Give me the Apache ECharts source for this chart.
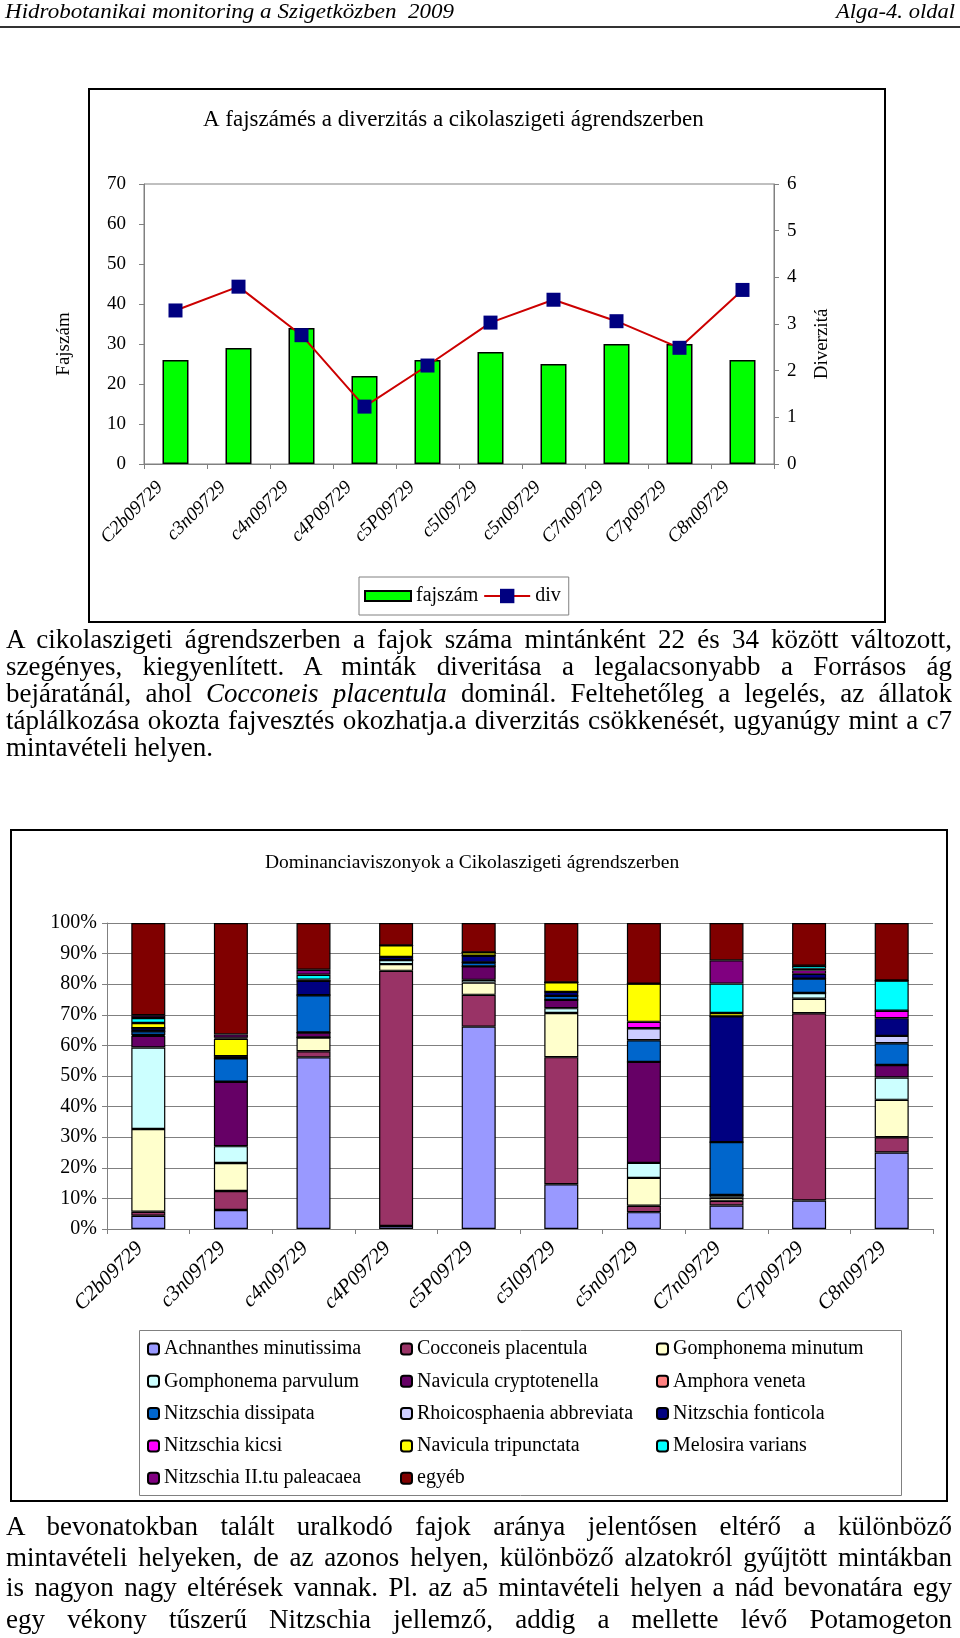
<!DOCTYPE html>
<html><head><meta charset="utf-8">
<script src="https://cdn.jsdelivr.net/npm/echarts@6/dist/echarts.min.js"></script>
<style>
html,body{margin:0;padding:0;background:#fff;width:960px;height:1638px;overflow:hidden;position:relative;font-family:"Liberation Serif","Times New Roman",serif;color:#000;}
#chart{position:absolute;left:0;top:0;width:960px;height:1638px;}
.hd{position:absolute;top:0;font-size:22px;line-height:22px;font-style:italic;white-space:nowrap;transform-origin:0 0;}
.hline{position:absolute;left:0;top:26px;width:960px;height:2px;background:#333;}
.ln{position:absolute;left:6px;font-size:27px;line-height:27px;transform-origin:0 0;display:inline-block;}
</style></head>
<body>
<div id="chart"></div>
<div class="hd" id="h1" style="left:5px">Hidrobotanikai monitoring a Szigetközben&nbsp; 2009</div>
<div class="hd" id="h2" style="left:836px">Alga-4. oldal</div>
<div class="hline"></div>

<div class="ln j" data-c="642">A cikolaszigeti ágrendszerben a fajok száma mintánként 22 és 34 között változott,</div>
<div class="ln j" data-c="669.3">szegényes, kiegyenlített. A minták diveritása a legalacsonyabb a Forrásos ág</div>
<div class="ln j" data-c="696.6">bejáratánál, ahol <i>Cocconeis placentula</i> dominál. Feltehetőleg a legelés, az állatok</div>
<div class="ln j" data-c="723.9">táplálkozása okozta fajvesztés okozhatja.a diverzitás csökkenését, ugyanúgy mint a c7</div>
<div class="ln" data-c="750">mintavételi helyen.</div>

<div class="ln j" data-c="1529">A bevonatokban talált uralkodó fajok aránya jelentősen eltérő a különböző</div>
<div class="ln j" data-c="1560">mintavételi helyeken, de az azonos helyen, különböző alzatokról gyűjtött mintákban</div>
<div class="ln j" data-c="1590">is nagyon nagy eltérések vannak. Pl. az a5 mintavételi helyen a nád bevonatára egy</div>
<div class="ln j" data-c="1622">egy vékony tűszerű Nitzschia jellemző, addig a mellette lévő Potamogeton</div>

<script>
// ---------- DATA ----------
const categories = ['C2b09729','c3n09729','c4n09729','c4P09729','c5P09729','c5l09729','c5n09729','C7n09729','C7p09729','C8n09729'];
// chart 1
const fajszam = [26, 29, 34, 22, 26, 28, 25, 30, 30, 26];
const diverzitas = [3.29, 3.80, 2.76, 1.23, 2.11, 3.03, 3.52, 3.06, 2.49, 3.73];
// chart 2 (relative abundance, %)
const achnanthes  = [4.3, 6.2, 56.1, 1.0, 66.2, 14.6, 5.5, 7.7, 9.3, 25.0];
const cocconeis   = [1.3, 6.2, 2.0, 83.2, 10.4, 41.5, 2.1, 1.5, 61.3, 5.0];
const gMinutum    = [26.9, 9.1, 4.5, 2.2, 4.0, 14.4, 9.1, 1.0, 4.7, 12.2];
const gParvulum   = [26.5, 5.5, 0, 1.3, 0.9, 1.6, 4.9, 0.9, 1.9, 7.3];
const navCrypto   = [3.8, 21.0, 1.6, 0, 4.4, 2.7, 33.0, 0, 0, 4.1];
const amphora     = [0.3, 0, 0, 0, 0, 0, 0, 0, 0, 0];
const nDissipata  = [1.2, 7.6, 12.2, 0, 1.3, 1.3, 7.1, 17.3, 4.7, 7.1];
const rhoico      = [0, 0, 0, 0, 0, 0, 3.9, 0, 0, 2.4];
const nFonticola  = [1.0, 0.7, 4.7, 1.0, 2.2, 1.3, 0, 41.1, 1.6, 5.8];
const nKicsi      = [0, 0, 0, 0, 0, 0, 2.1, 0, 1.1, 2.4];
const navTripunct = [1.7, 5.7, 0.4, 3.8, 1.1, 3.1, 12.5, 1.1, 0.5, 0];
const melosira    = [1.6, 0.3, 1.6, 0, 0, 0, 0, 9.6, 1.0, 9.9];
const nPaleacea   = [0.9, 1.1, 1.6, 0, 0, 0, 0, 7.6, 0, 0];
const egyeb       = [30.0, 36.3, 15.3, 7.3, 9.6, 19.4, 19.8, 12.2, 14.0, 18.8];
const speciesNames = ['Achnanthes minutissima','Cocconeis placentula','Gomphonema minutum','Gomphonema parvulum','Navicula cryptotenella','Amphora veneta','Nitzschia dissipata','Rhoicosphaenia abbreviata','Nitzschia fonticola','Nitzschia kicsi','Navicula tripunctata','Melosira varians','Nitzschia II.tu paleacaea','egyéb'];
const speciesValues = [achnanthes, cocconeis, gMinutum, gParvulum, navCrypto, amphora, nDissipata, rhoico, nFonticola, nKicsi, navTripunct, melosira, nPaleacea, egyeb];
const leftTicks1 = [0,10,20,30,40,50,60,70];
const rightTicks1 = [0,1,2,3,4,5,6];
const pctTicks = ['0%','10%','20%','30%','40%','50%','60%','70%','80%','90%','100%'];

// ---------- STYLE ----------
const speciesColors = ['#9999FF','#993366','#FFFFCC','#CCFFFF','#660066','#FF8080','#0066CC','#CCCCFF','#000080','#FF00FF','#FFFF00','#00FFFF','#800080','#800000'];
const FF = 'Liberation Serif';

// text layout helpers
function fitHeader(id, target) {
  const el = document.getElementById(id);
  const w = el.getBoundingClientRect().width;
  el.style.transform = 'scaleX(' + (target / w) + ')';
}
fitHeader('h1', 449);
fitHeader('h2', 119);
document.querySelectorAll('.ln').forEach(el => {
  const c = parseFloat(el.dataset.c);
  el.style.top = (c - 16.5) + 'px';
  const w = el.getBoundingClientRect().width;
  if (el.classList.contains('j')) {
    const s = Math.min(1, 946 / (w + 1));
    el.style.width = (946 / s) + 'px';
    el.style.textAlign = 'justify';
    el.style.textAlignLast = 'justify';
    el.style.transform = 'scaleX(' + s + ')';
  }
});

// percent normalisation for 100% stacked chart
const totals = categories.map((_, i) => speciesValues.reduce((a, arr) => a + arr[i], 0));
const pctSeries = speciesValues.map(arr => arr.map((v, i) => v / totals[i] * 100));

const chart = echarts.init(document.getElementById('chart'), null, {renderer: 'canvas'});
const gray = '#808080';

const series = [
  {type: 'bar', name: 'fajszám', xAxisIndex: 0, yAxisIndex: 0, data: fajszam, barWidth: 26,
   itemStyle: {color: '#00FF00', borderColor: '#000', borderWidth: 1.5}},
  {type: 'line', name: 'div', xAxisIndex: 0, yAxisIndex: 1, data: diverzitas, symbol: 'rect', symbolSize: 14,
   lineStyle: {color: '#CC0000', width: 2}, itemStyle: {color: '#000080'}}
];
speciesNames.forEach((n, k) => {
  series.push({type: 'bar', name: n, stack: 'dom', xAxisIndex: 1, yAxisIndex: 2, data: pctSeries[k], barWidth: 34,
    itemStyle: {color: speciesColors[k], borderColor: '#000', borderWidth: 1.2}});
});

const col1 = [0, 3, 6, 9, 12].map(i => speciesNames[i]);
const col2 = [1, 4, 7, 10, 13].map(i => speciesNames[i]);
const col3 = [2, 5, 8, 11].map(i => speciesNames[i]);
const legend2 = (left, data) => ({left: left, top: 1339, orient: 'vertical', padding: 0, itemWidth: 11, itemHeight: 11, itemGap: 12.3,
  textStyle: {fontSize: 20, lineHeight: 20, fontFamily: FF, color: '#000'}, data: data, selectedMode: false});

chart.setOption({
  animation: false,
  backgroundColor: 'transparent',
  textStyle: {fontFamily: FF, color: '#000'},
  title: [
    {text: 'A fajszámés a diverzitás a cikolaszigeti ágrendszerben', left: 203, top: 106, padding: 0,
     textStyle: {fontSize: 23, fontWeight: 'normal', fontFamily: FF, color: '#000', lineHeight: 28}},
    {text: 'Dominanciaviszonyok a Cikolaszigeti ágrendszerben', left: 265, top: 851, padding: 0,
     textStyle: {fontSize: 19.5, fontWeight: 'normal', fontFamily: FF, color: '#000', lineHeight: 24}}
  ],
  legend: [
    {left: 359, top: 577, padding: [9, 8, 9, 5], borderColor: gray, borderWidth: 1, itemWidth: 46, itemHeight: 18, itemGap: 5,
     selectedMode: false, textStyle: {fontSize: 20, fontFamily: FF, color: '#000'},
     data: [{name: 'fajszám', icon: 'path://M0,0H46V10H0Z'}, 'div']},
    legend2(147, col1), legend2(400, col2), legend2(656, col3)
  ],
  grid: [
    {left: 144, top: 184, width: 630, height: 280, show: true, borderColor: gray, borderWidth: 1},
    {left: 107, top: 923, width: 826, height: 306}
  ],
  xAxis: [
    {gridIndex: 0, type: 'category', data: categories,
     axisLine: {lineStyle: {color: gray}}, axisTick: {show: true, length: 5, lineStyle: {color: gray}},
     axisLabel: {interval: 0, rotate: 45, fontStyle: 'italic', fontSize: 19, fontFamily: FF, color: '#000', margin: 5, padding: [0, 22, 0, 0]}},
    {gridIndex: 1, type: 'category', data: categories,
     axisLine: {lineStyle: {color: gray}}, axisTick: {show: true, length: 5, lineStyle: {color: gray}},
     axisLabel: {interval: 0, rotate: 45, fontStyle: 'italic', fontSize: 21, fontFamily: FF, color: '#000', margin: 8, padding: [0, 12, 0, 0]}}
  ],
  yAxis: [
    {gridIndex: 0, type: 'value', position: 'left', min: leftTicks1[0], max: leftTicks1[leftTicks1.length - 1], interval: 10,
     axisLine: {show: true, lineStyle: {color: gray}}, axisTick: {show: true, length: 5, lineStyle: {color: gray}},
     splitLine: {show: false}, axisLabel: {fontSize: 19, fontFamily: FF, color: '#000', margin: 18},
     name: 'Fajszám', nameLocation: 'middle', nameRotate: 90, nameGap: 70,
     nameTextStyle: {fontSize: 19, fontFamily: FF, color: '#000', padding: [0, 40, 0, 0]}},
    {gridIndex: 0, type: 'value', position: 'right', min: rightTicks1[0], max: rightTicks1[rightTicks1.length - 1], interval: 1,
     axisLine: {show: true, lineStyle: {color: gray}}, axisTick: {show: true, length: 5, lineStyle: {color: gray}},
     splitLine: {show: false}, axisLabel: {fontSize: 19, fontFamily: FF, color: '#000', margin: 13},
     name: 'Diverzitá', nameLocation: 'middle', nameRotate: 90, nameGap: 39,
     nameTextStyle: {fontSize: 19, fontFamily: FF, color: '#000', padding: [0, 40, 0, 0]}},
    {gridIndex: 1, type: 'value', min: 0, max: 100, interval: 10,
     axisLine: {show: true, lineStyle: {color: gray}}, axisTick: {show: true, length: 5, lineStyle: {color: gray}},
     splitLine: {show: true, lineStyle: {color: gray, width: 1}},
     axisLabel: {fontSize: 20, fontFamily: FF, color: '#000', margin: 10, formatter: (v) => pctTicks[Math.round(v / 10)]}}
  ],
  graphic: [
    {type: 'rect', shape: {x: 89, y: 89, width: 796, height: 533}, style: {fill: 'none', stroke: '#000', lineWidth: 2}, silent: true, z: -1},
    {type: 'rect', shape: {x: 11, y: 830, width: 936, height: 671}, style: {fill: 'none', stroke: '#000', lineWidth: 2}, silent: true, z: -1},
    {type: 'rect', shape: {x: 139.5, y: 1330.5, width: 762, height: 165}, style: {fill: 'none', stroke: gray, lineWidth: 1}, silent: true, z: -1}
  ],
  series: series
});
</script>
</body></html>
